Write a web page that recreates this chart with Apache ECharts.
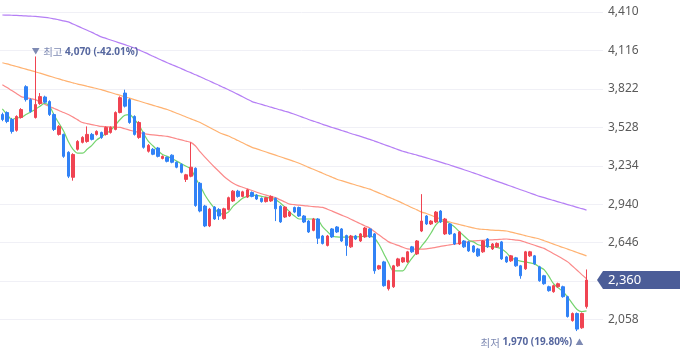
<!DOCTYPE html>
<html><head><meta charset="utf-8">
<script src="https://cdn.jsdelivr.net/npm/echarts@6/dist/echarts.min.js"></script>
<style>html,body{margin:0;padding:0;background:#fff}#c{width:680px;height:358px}</style>
</head><body><div id="c"></div>
<script>
const opens=[3626,3641,3588,3505,3603,3839,3740,3603,3710,3760,3725,3626,3474,3474,3337,3146,3360,3413,3420,3474,3474,3489,3474,3489,3512,3641,3790,3740,3611,3451,3489,3345,3360,3370,3290,3299,3315,3261,3245,3130,3154,3215,3100,2926,2774,2918,2900,2830,2900,2965,3040,3000,2995,3030,3010,2985,2960,2965,2985,2925,2842,2850,2915,2915,2850,2811,2740,2827,2697,2625,2751,2766,2751,2700,2614,2697,2659,2690,2751,2713,2446,2499,2294,2309,2469,2499,2499,2614,2560,2735,2850,2789,2804,2888,2713,2789,2713,2636,2659,2652,2621,2598,2576,2674,2598,2614,2652,2537,2507,2530,2469,2446,2545,2545,2461,2393,2309,2271,2309,2309,2233,2050,2104,1995,2157];
const closes=[3588,3573,3497,3611,3664,3740,3649,3702,3763,3720,3626,3512,3535,3306,3154,3320,3420,3451,3474,3436,3497,3451,3527,3527,3641,3755,3690,3565,3474,3565,3375,3390,3322,3306,3306,3268,3261,3223,3184,3165,3223,2930,2888,2774,2903,2827,2850,2905,2990,3040,3000,3035,3050,3000,2980,2960,2990,3000,2905,2805,2918,2880,2880,2850,2804,2728,2827,2680,2640,2697,2690,2728,2659,2625,2697,2674,2713,2758,2690,2431,2469,2317,2355,2469,2522,2530,2576,2576,2659,2811,2789,2811,2880,2804,2827,2713,2636,2728,2614,2583,2576,2545,2659,2614,2636,2640,2522,2499,2545,2469,2393,2576,2576,2484,2355,2332,2279,2317,2332,2233,2081,2104,1985,2104,2360];
const lows=[3575,3560,3480,3495,3595,3725,3640,3595,3700,3710,3615,3500,3465,3295,3140,3120,3350,3405,3410,3428,3465,3440,3465,3480,3505,3635,3680,3555,3465,3440,3365,3335,3315,3298,3283,3260,3253,3215,3176,3110,3146,2920,2878,2765,2765,2820,2820,2822,2892,2957,2990,2993,2988,2993,2972,2952,2953,2958,2811,2797,2835,2843,2872,2843,2796,2720,2733,2636,2632,2617,2682,2720,2651,2545,2606,2666,2651,2683,2682,2408,2438,2309,2280,2300,2461,2491,2491,2568,2552,2727,2781,2781,2796,2796,2705,2705,2628,2628,2606,2575,2568,2537,2568,2606,2590,2606,2514,2491,2499,2461,2370,2438,2537,2476,2347,2324,2271,2263,2301,2225,2073,2042,1970,1987,2142];
const highs=[3640,3650,3600,3620,3675,3850,3750,4070,3790,3770,3735,3635,3545,3480,3345,3330,3430,3460,3535,3485,3505,3495,3535,3535,3650,3765,3816,3750,3620,3575,3495,3400,3370,3378,3313,3306,3322,3268,3252,3172,3413,3222,3110,2935,2912,2926,2910,2913,2998,3048,3050,3043,3058,3038,3017,2992,2997,3008,2992,2932,2926,2888,2922,2922,2857,2818,2835,2834,2705,2705,2758,2773,2758,2707,2705,2705,2720,2766,2758,2720,2476,2507,2362,2476,2530,2537,2583,2621,2666,3017,2857,2818,2888,2895,2835,2797,2720,2735,2666,2659,2628,2606,2666,2681,2643,2648,2659,2545,2552,2537,2476,2583,2583,2552,2469,2400,2317,2325,2340,2317,2240,2112,2112,2112,2441];
const ma5=[3670,3626,3588,3600,3603,3626,3645,3665,3690,3712,3690,3620,3560,3500,3420,3360,3330,3330,3360,3390,3430,3455,3480,3505,3545,3588,3620,3625,3590,3545,3480,3420,3385,3350,3320,3306,3290,3270,3250,3230,3210,3140,3080,3010,2956,2910,2870,2865,2880,2926,2956,2985,3000,3010,3008,3000,2994,2985,2975,2950,2918,2880,2850,2827,2827,2827,2827,2820,2766,2730,2697,2690,2688,2688,2690,2690,2692,2695,2697,2680,2630,2560,2490,2431,2431,2431,2480,2530,2575,2620,2665,2720,2780,2811,2811,2790,2766,2730,2697,2665,2652,2630,2621,2617,2614,2610,2598,2570,2530,2515,2505,2499,2492,2484,2460,2440,2390,2332,2300,2271,2230,2180,2135,2119,2125];
const ma20=[3854,3832,3809,3786,3763,3755,3748,3740,3722,3705,3687,3672,3657,3641,3626,3606,3585,3565,3557,3549,3542,3535,3533,3531,3529,3527,3517,3507,3497,3489,3481,3474,3470,3467,3463,3459,3450,3441,3432,3422,3413,3385,3340,3300,3262,3225,3190,3154,3125,3100,3082,3070,3058,3045,3032,3020,3009,2999,2990,2973,2957,2941,2937,2933,2930,2926,2922,2919,2916,2902,2887,2872,2857,2842,2825,2808,2791,2774,2758,2731,2704,2678,2652,2638,2625,2611,2598,2596,2596,2597,2598,2604,2610,2617,2623,2629,2635,2641,2647,2653,2659,2662,2664,2666,2668,2670,2672,2674,2670,2666,2661,2650,2638,2626,2614,2602,2582,2562,2542,2521,2499,2467,2435,2402,2370];
const ma60=[4022,4013,4003,3993,3983,3973,3963,3953,3942,3931,3920,3909,3898,3888,3877,3868,3859,3851,3842,3833,3825,3816,3805,3794,3783,3772,3762,3751,3740,3729,3718,3707,3696,3686,3675,3664,3650,3636,3622,3607,3593,3579,3565,3546,3527,3508,3489,3474,3462,3444,3427,3410,3392,3375,3363,3351,3339,3327,3315,3303,3291,3279,3267,3253,3238,3222,3207,3192,3177,3161,3146,3131,3120,3109,3098,3087,3076,3066,3055,3040,3025,3010,2994,2979,2964,2947,2930,2913,2897,2880,2869,2856,2842,2827,2815,2804,2794,2785,2776,2767,2759,2751,2748,2745,2742,2740,2738,2735,2727,2718,2709,2700,2691,2683,2674,2661,2648,2635,2622,2609,2597,2584,2571,2558,2545];
const ma120=[4387,4386,4385,4384,4382,4380,4378,4376,4373,4369,4364,4357,4350,4342,4334,4318,4302,4286,4270,4254,4237,4220,4208,4196,4184,4172,4160,4148,4136,4120,4104,4088,4071,4055,4038,4022,4007,3992,3977,3961,3946,3930,3915,3898,3882,3865,3849,3832,3816,3798,3780,3762,3743,3725,3714,3703,3693,3682,3672,3661,3651,3641,3628,3615,3601,3588,3576,3564,3551,3539,3527,3516,3504,3493,3481,3470,3459,3447,3436,3423,3410,3397,3384,3371,3358,3345,3335,3325,3316,3306,3295,3284,3273,3262,3251,3240,3228,3216,3204,3192,3180,3167,3154,3141,3128,3115,3103,3090,3077,3064,3051,3039,3026,3013,3000,2990,2979,2969,2958,2948,2937,2927,2916,2906,2895];
const yMin=1764, yMax=4410, yStep=294;

const categories = opens.map((_, i) => 'D' + (i + 1));
const candles = opens.map((o, i) => [o, closes[i], lows[i], highs[i]]);
const last = closes[closes.length - 1];
const fmt = v => Number(v).toLocaleString('en-US');
const hi = Math.max(...highs), lo = Math.min(...lows);
const hiPct = ((last - hi) / hi * 100).toFixed(2);
const loPct = ((last - lo) / lo * 100).toFixed(2);
const F = '"Noto Sans", "Noto Sans CJK KR", sans-serif';
const KF = '"Noto Sans CJK KR", "Noto Sans", sans-serif';

function maLine(name, data, color) {
  return { name, type: 'line', data, showSymbol: false, symbol: 'none', smooth: 0.3, silent: true,
    lineStyle: { color, width: 1.2 }, z: 1 };
}
const annRich = {
  a: { color: '#7e8ab3', fontSize: 8, fontFamily: F },
  b: { color: '#7e8ab3', fontSize: 10.5, fontFamily: KF },
  c: { color: '#56679f', fontSize: 10, fontWeight: 'bold', fontFamily: F }
};

const chart = echarts.init(document.getElementById('c'), null, { renderer: 'canvas' });
chart.setOption({
  animation: false,
  grid: { left: 0, right: 77, top: 12, height: 348 },
  xAxis: { type: 'category', data: categories, max: 127, boundaryGap: true, show: false },
  yAxis: {
    type: 'value', position: 'right', min: yMin, max: yMax, interval: yStep, scale: false,
    axisLine: { show: false }, axisTick: { show: false },
    splitLine: { lineStyle: { color: '#f0f0f6', width: 1 } },
    axisLabel: { margin: 5, color: '#5a5a5a', fontSize: 12, fontFamily: F, formatter: v => fmt(v), showMinLabel: false }
  },
  series: [
    maLine('120', ma120, '#b57ff5'),
    maLine('60', ma60, '#ffb271'),
    maLine('20', ma20, '#fb8a8a'),
    maLine('5', ma5, '#74d46e'),
    {
      type: 'candlestick', data: candles, barWidth: 3, z: 3, clip: false,
      itemStyle: { color: '#f04452', color0: '#3182f6', borderColor: '#f04452', borderColor0: '#3182f6', borderWidth: 1 },
      markPoint: {
        silent: true,
        data: [
          { type: 'max', valueDim: 'highest', symbol: 'circle', symbolSize: 1, itemStyle: { color: 'rgba(0,0,0,0)' },
            label: { show: true, position: [-3, -4], align: 'left', verticalAlign: 'middle', rich: annRich,
              formatter: () => `{a|▼} {b|최고}{c| ${fmt(hi)} (${hiPct}%)}` } },
          { type: 'min', valueDim: 'lowest', symbol: 'circle', symbolSize: 1, itemStyle: { color: 'rgba(0,0,0,0)' },
            label: { show: true, position: [7, 12], align: 'right', verticalAlign: 'middle', rich: annRich,
              formatter: () => `{b|최저}{c| ${fmt(lo)} (${loPct}%)} {a|▲}` } },
          { coord: [categories.length - 1, last], symbol: 'path://M0,9L6,0L83,0L83,18L6,18Z', symbolSize: [83, 18],
            symbolOffset: [52, 0], symbolKeepAspect: false, itemStyle: { color: '#4b5d98' },
            label: { show: true, position: [11, 9], align: 'left', verticalAlign: 'middle', color: '#fff',
              fontSize: 13, fontFamily: F, formatter: () => fmt(last) } }
        ]
      }
    }
  ]
});
</script></body></html>
